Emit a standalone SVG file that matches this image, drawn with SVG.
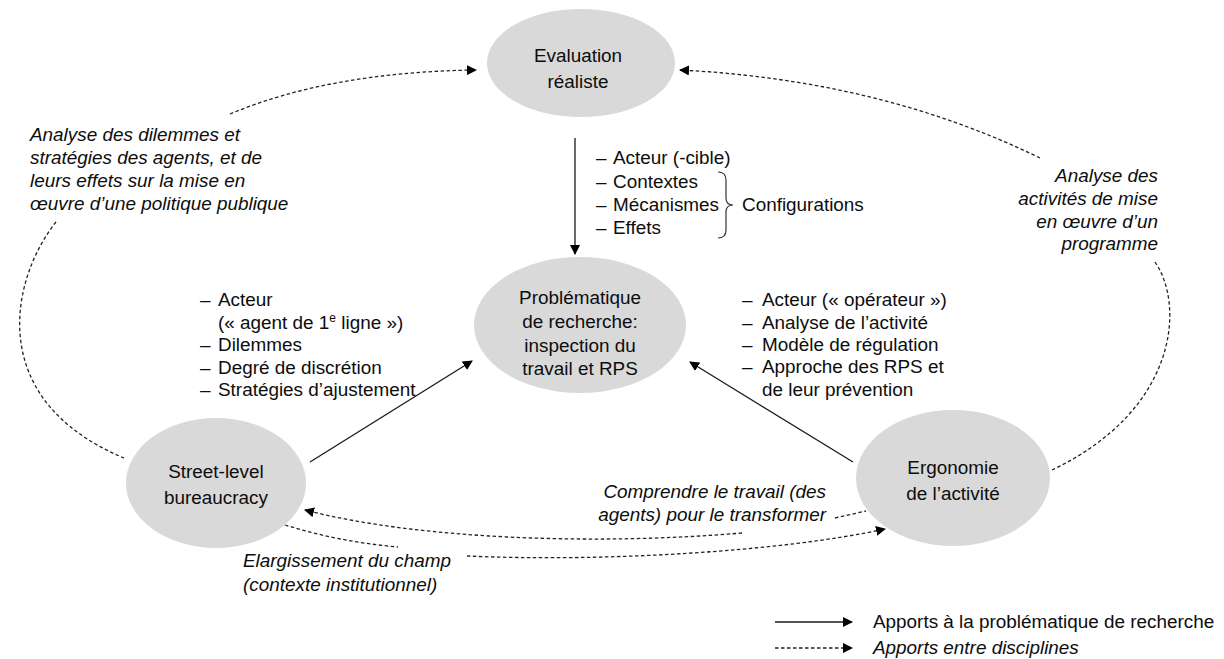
<svg xmlns="http://www.w3.org/2000/svg" width="1224" height="659" viewBox="0 0 1224 659">
<defs>
<marker id="ah" viewBox="0 0 10 10" refX="9" refY="5" markerWidth="10" markerHeight="10" markerUnits="userSpaceOnUse" orient="auto">
<path d="M0,0 L10,5 L0,10 Z" fill="#000"/>
</marker>
<style>
.node{fill:#d9d9d9;stroke:none}
.t{font-family:"Liberation Sans",Arial,sans-serif;font-size:18.9px;fill:#0d0d0d}
.c{text-anchor:middle}
.i{font-style:italic}
.e{text-anchor:end}
.solid{fill:none;stroke:#1a1a1a;stroke-width:1.3}
.dash{fill:none;stroke:#222;stroke-width:1.3;stroke-dasharray:3.5 2.5}
</style>
</defs>
<rect width="1224" height="659" fill="#fff"/>

<g id="connectors">
<line class="solid" x1="575" y1="138" x2="575" y2="254" marker-end="url(#ah)"/>
<line class="solid" x1="310" y1="462" x2="472" y2="361" marker-end="url(#ah)"/>
<line class="solid" x1="853" y1="462" x2="690" y2="362" marker-end="url(#ah)"/>
<path class="dash" d="M230,114 Q330,72 476,70" marker-end="url(#ah)"/>
<path class="dash" d="M56,222 C10,280 -15,400 124,458"/>
<path class="dash" d="M1040,158 Q880,80 680,70" marker-end="url(#ah)"/>
<path class="dash" d="M1155,262 C1185,305 1178,410 1052,470"/>
<path class="dash" d="M835,518 L866,511"/>
<path class="dash" d="M742,533 C600,545 420,540 305,510" marker-end="url(#ah)"/>
<path class="dash" d="M285,525 Q340,542 398,547"/>
<path class="dash" d="M467,556 C600,562 780,552 885,529" marker-end="url(#ah)"/>
</g>

<g id="eval">
<ellipse class="node" cx="581" cy="63" rx="94" ry="54"/>
<text class="t c" x="578" y="62">Evaluation</text>
<text class="t c" x="578" y="88">réaliste</text>
</g>

<g id="problematique">
<ellipse class="node" cx="580" cy="325" rx="106" ry="68"/>
<text class="t c" x="580" y="304">Problématique</text>
<text class="t c" x="580" y="328">de recherche:</text>
<text class="t c" x="580" y="352">inspection du</text>
<text class="t c" x="580" y="375">travail  et RPS</text>
</g>

<g id="street">
<ellipse class="node" cx="216" cy="483" rx="90" ry="65"/>
<text class="t c" x="216" y="478">Street-level</text>
<text class="t c" x="216" y="504">bureaucracy</text>
</g>

<g id="ergonomie">
<ellipse class="node" cx="953" cy="478" rx="97" ry="68"/>
<text class="t c" x="953" y="474">Ergonomie</text>
<text class="t c" x="953" y="500">de l’activité</text>
</g>

<g id="list-top">
<text class="t" x="596" y="164">–</text><text class="t" x="613" y="164">Acteur (-cible)</text>
<text class="t" x="596" y="188">–</text><text class="t" x="613" y="188">Contextes</text>
<text class="t" x="596" y="211">–</text><text class="t" x="613" y="211">Mécanismes</text>
<text class="t" x="596" y="234">–</text><text class="t" x="613" y="234">Effets</text>
<path fill="none" stroke="#333" stroke-width="1.2" d="M718,172 Q726,172 726,180 L726,198 Q726,205 733,205 Q726,205 726,212 L726,230 Q726,238 718,238"/>
<text class="t" x="742" y="211">Configurations</text>
</g>

<g id="list-left">
<text class="t" x="200" y="306">–</text><text class="t" x="218" y="306">Acteur</text>
<text class="t" x="218" y="329">(« agent de 1<tspan font-size="12" dy="-7">e</tspan><tspan dy="7"> ligne »)</tspan></text>
<text class="t" x="200" y="351">–</text><text class="t" x="218" y="351">Dilemmes</text>
<text class="t" x="200" y="374">–</text><text class="t" x="218" y="374">Degré de discrétion</text>
<text class="t" x="200" y="396">–</text><text class="t" x="218" y="396">Stratégies d’ajustement</text>
</g>

<g id="list-right">
<text class="t" x="742" y="306">–</text><text class="t" x="762" y="306">Acteur (« opérateur »)</text>
<text class="t" x="742" y="329">–</text><text class="t" x="762" y="329">Analyse de l’activité</text>
<text class="t" x="742" y="351">–</text><text class="t" x="762" y="351">Modèle de régulation</text>
<text class="t" x="742" y="373">–</text><text class="t" x="762" y="373">Approche des RPS et</text>
<text class="t" x="762" y="396">de leur prévention</text>
</g>

<g id="label-left">
<text class="t i" x="30" y="141">Analyse des dilemmes et</text>
<text class="t i" x="30" y="164">stratégies des agents, et de</text>
<text class="t i" x="30" y="187">leurs effets sur la mise en</text>
<text class="t i" x="30" y="210">œuvre d’une politique publique</text>
</g>

<g id="label-right">
<text class="t i e" x="1158" y="182">Analyse des</text>
<text class="t i e" x="1158" y="205">activités de mise</text>
<text class="t i e" x="1158" y="228">en œuvre d’un</text>
<text class="t i e" x="1158" y="250">programme</text>
</g>

<g id="label-bottom">
<text class="t i e" x="826" y="498">Comprendre le travail (des</text>
<text class="t i e" x="826" y="521">agents) pour le transformer</text>
<text class="t i" x="243" y="567">Elargissement du champ</text>
<text class="t i" x="243" y="591">(contexte institutionnel)</text>
</g>

<g id="legend">
<line class="solid" x1="775" y1="622" x2="852" y2="622" marker-end="url(#ah)"/>
<line class="dash" x1="775" y1="648" x2="852" y2="648" marker-end="url(#ah)"/>
<text class="t" x="873" y="628">Apports à la problématique de recherche</text>
<text class="t i" x="873" y="654">Apports entre disciplines</text>
</g>
</svg>
